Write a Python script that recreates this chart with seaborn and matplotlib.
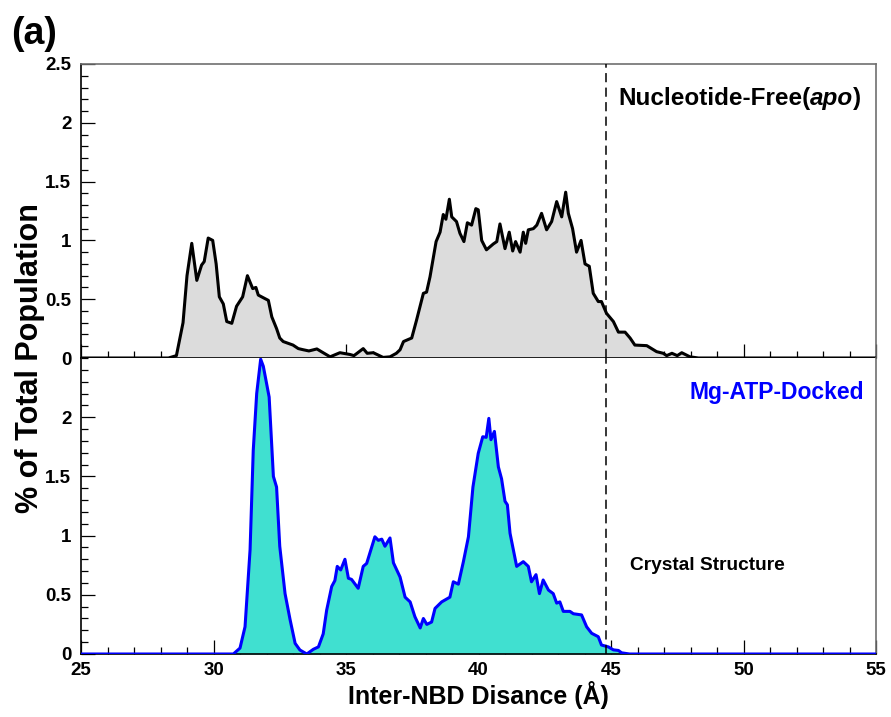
import matplotlib
matplotlib.use("Agg")
import matplotlib.pyplot as plt
import seaborn as sns
import numpy as np
import pandas as pd
from matplotlib.ticker import MultipleLocator, FixedLocator, FixedFormatter

# ---------------- data ----------------
apo_x = [25, 28.3, 28.6, 28.85, 29.0, 29.18, 29.37, 29.55, 29.65, 29.8, 29.97, 30.1, 30.22, 30.37,
         30.5, 30.69, 30.87, 31.1, 31.28, 31.48, 31.6, 31.69, 31.9, 32.07, 32.2, 32.38, 32.5, 32.63,
         33.0, 33.2, 33.39, 33.6, 33.9, 34.1, 34.4, 34.77, 35.15, 35.3, 35.65, 35.8, 36.03, 36.4,
         36.66, 36.9, 37.04, 37.17, 37.48, 37.66, 37.92, 38.04, 38.17, 38.4, 38.55, 38.67, 38.77,
         38.9, 38.99, 39.17, 39.3, 39.45, 39.58, 39.74, 39.9, 39.99, 40.12, 40.3, 40.56, 40.69,
         40.81, 41.0, 41.16, 41.29, 41.4, 41.57, 41.69, 41.78, 41.88, 42.07, 42.2, 42.38, 42.57,
         42.76, 42.95, 43.14, 43.29, 43.39, 43.55, 43.7, 43.87, 44.02, 44.18, 44.33, 44.52, 44.64,
         44.83, 45.09, 45.28, 45.53, 45.72, 45.9, 46.35, 46.72, 46.97, 47.1, 47.3, 47.5, 47.67,
         47.98, 48.3, 55]
apo_y = [0, 0, 0.02, 0.3, 0.7, 0.975, 0.66, 0.79, 0.82, 1.02, 1.0, 0.8, 0.52, 0.46,
         0.31, 0.295, 0.44, 0.52, 0.70, 0.59, 0.6, 0.535, 0.51, 0.49, 0.35, 0.25, 0.17, 0.14,
         0.11, 0.08, 0.07, 0.06, 0.077, 0.05, 0.01, 0.045, 0.03, 0.02, 0.08, 0.04, 0.045, 0.005,
         0.01, 0.04, 0.07, 0.14, 0.17, 0.32, 0.55, 0.56, 0.69, 0.99, 1.07, 1.22, 1.18,
         1.35, 1.20, 1.16, 1.06, 0.99, 1.15, 1.13, 1.27, 1.26, 1.0, 0.92, 0.97, 0.99,
         1.14, 0.93, 1.07, 0.91, 0.99, 0.90, 1.07, 0.975, 1.09, 1.10, 1.13, 1.23, 1.09,
         1.16, 1.33, 1.20, 1.41, 1.23, 1.10, 0.90, 1.0, 0.80, 0.78, 0.55, 0.48, 0.48,
         0.38, 0.31, 0.22, 0.22, 0.17, 0.11, 0.105, 0.054, 0.04, 0.02, 0.04, 0.02, 0.045,
         0.01, 0, 0]

atp_x = [25, 30.75, 31.0, 31.19, 31.38, 31.5, 31.63, 31.78, 31.88, 32.1, 32.26, 32.38, 32.5, 32.7,
         32.89, 33.08, 33.26, 33.52, 33.77, 33.96, 34.14, 34.27, 34.46, 34.58, 34.67, 34.8, 34.96,
         35.09, 35.21, 35.46, 35.65, 35.78, 36.09, 36.22, 36.35, 36.47, 36.66, 36.79, 37.04, 37.23,
         37.42, 37.6, 37.8, 37.92, 38.05, 38.23, 38.36, 38.61, 38.92, 39.05, 39.24, 39.43, 39.62,
         39.79, 39.99, 40.16, 40.29, 40.39, 40.47, 40.6, 40.75, 40.87, 41.0, 41.09, 41.19, 41.44,
         41.69, 41.88, 42.0, 42.17, 42.3, 42.44, 42.64, 42.82, 42.95, 43.07, 43.2, 43.45, 43.58,
         43.89, 44.08, 44.27, 44.52, 44.64, 44.9, 45.09, 45.28, 45.4, 45.7, 55]
atp_y = [0, 0, 0.05, 0.23, 0.88, 1.72, 2.2, 2.49, 2.43, 2.17, 1.5, 1.41, 0.91, 0.51,
         0.29, 0.09, 0.034, 0, 0.04, 0.06, 0.17, 0.37, 0.57, 0.62, 0.74, 0.71, 0.80,
         0.64, 0.63, 0.555, 0.74, 0.765, 0.99, 0.96, 0.97, 0.91, 0.98, 0.77, 0.65, 0.48,
         0.44, 0.315, 0.22, 0.30, 0.25, 0.27, 0.385, 0.44, 0.48, 0.61, 0.59, 0.78, 0.99,
         1.41, 1.695, 1.835, 1.83, 1.99, 1.81, 1.88, 1.58, 1.48, 1.29, 1.26, 1.02, 0.74,
         0.78, 0.74, 0.61, 0.67, 0.51, 0.625, 0.54, 0.51, 0.43, 0.44, 0.36, 0.36, 0.34,
         0.33, 0.23, 0.175, 0.146, 0.076, 0.06, 0.035, 0.03, 0.01, 0, 0]

crystal_x = 44.8
x_ticks = [25, 30, 35, 40, 45, 50, 55]
top_yticks = [0, 0.5, 1, 1.5, 2, 2.5]
bot_yticks = [0, 0.5, 1, 1.5, 2]
label_top = "Nucleotide-Free("
label_top_it = "apo"
label_bot = "Mg-ATP-Docked"
label_crystal = "Crystal Structure"

# ---------------- style ----------------
sns.set_style("white")
plt.rcParams['font.family'] = ['Liberation Sans', 'DejaVu Sans']
plt.rcParams['font.weight'] = 'bold'
plt.rcParams['text.color'] = 'black'
plt.rcParams['axes.labelcolor'] = 'black'
plt.rcParams['xtick.color'] = 'black'
plt.rcParams['ytick.color'] = 'black'
plt.rcParams['xtick.labelcolor'] = 'black'
plt.rcParams['ytick.labelcolor'] = 'black'

fig = plt.figure(figsize=(8.91, 7.17), dpi=100)
L, R = 81 / 891, 876 / 891
ax_top = fig.add_axes([L, 1 - 358 / 717, R - L, (358 - 64) / 717])
ax_bot = fig.add_axes([L, 1 - 654 / 717, R - L, (654 - 358) / 717], sharex=ax_top)

df_apo = pd.DataFrame({"x": apo_x, "y": apo_y})
df_atp = pd.DataFrame({"x": atp_x, "y": atp_y})

ax_top.fill_between(df_apo["x"], df_apo["y"], 0, color="#dcdcdc", linewidth=0, zorder=1)
sns.lineplot(data=df_apo, x="x", y="y", ax=ax_top, color="black", linewidth=2.2, sort=False,
             estimator=None, zorder=3)
ax_bot.fill_between(df_atp["x"], df_atp["y"], 0, color="#40e0d0", linewidth=0, zorder=1)
sns.lineplot(data=df_atp, x="x", y="y", ax=ax_bot, color="#0000ff", linewidth=2.2, sort=False,
             estimator=None, zorder=3)

for ax in (ax_top, ax_bot):
    ax.set_xlim(25, 55)
    ax.set_ylim(0, 2.5)
    ax.axvline(crystal_x, color="black", linestyle=(0, (6, 3.5)), linewidth=1.1, zorder=4)
    ax.set_xlabel("")
    ax.set_ylabel("")
    ax.xaxis.set_minor_locator(MultipleLocator(1))
    ax.yaxis.set_minor_locator(MultipleLocator(0.1))
    ax.tick_params(axis="both", which="major", direction="in", length=10, width=0.9,
                   color="black", labelcolor="black", labelsize=13.5)
    ax.tick_params(axis="both", which="minor", direction="in", length=5, width=0.9, color="black")
    ax.tick_params(axis="y", which="both", left=True, right=False, pad=7)
    ax.tick_params(axis="x", which="both", bottom=True, top=False, pad=6)
    for side in ("top", "right"):
        ax.spines[side].set_color("#707070")
        ax.spines[side].set_linewidth(1.2)
    for side in ("left", "bottom"):
        ax.spines[side].set_color("black")
        ax.spines[side].set_linewidth(1.2)
    ax.set_facecolor("white")

ax_top.yaxis.set_major_locator(FixedLocator(top_yticks))
ax_top.yaxis.set_major_formatter(FixedFormatter([f"{v:g}" for v in top_yticks]))
ax_bot.yaxis.set_major_locator(FixedLocator(bot_yticks))
ax_bot.yaxis.set_major_formatter(FixedFormatter([f"{v:g}" for v in bot_yticks]))
ax_bot.xaxis.set_major_locator(FixedLocator(x_ticks))
ax_bot.xaxis.set_major_formatter(FixedFormatter([str(v) for v in x_ticks]))
ax_top.tick_params(axis="x", labelbottom=False)
ax_bot.spines["top"].set_visible(False)
for lab in ax_top.get_yticklabels() + ax_bot.get_yticklabels() + ax_bot.get_xticklabels():
    lab.set_fontweight("bold")

# annotations
FS = 17.5
t1 = ax_top.text(45.26, 2.21, label_top, fontsize=FS, fontweight="bold", va="center", ha="left",
                 color="black")
fig.canvas.draw()
bb = t1.get_window_extent()
inv = ax_top.transData.inverted()
x_end = inv.transform((bb.x1, bb.y0))[0]
t2 = ax_top.text(x_end, 2.21, label_top_it, fontsize=FS, fontweight="bold", fontstyle="italic",
                 va="center", ha="left", color="black")
fig.canvas.draw()
bb2 = t2.get_window_extent()
x_end2 = inv.transform((bb2.x1, bb2.y0))[0]
ax_top.text(x_end2, 2.21, ")", fontsize=FS, fontweight="bold", va="center", ha="left",
            color="black")

ax_bot.text(54.55, 2.21, label_bot, fontsize=16.5, fontweight="bold", color="#0000ff",
            va="center", ha="right")
ax_bot.text(45.7, 0.75, label_crystal, fontsize=13.8, fontweight="bold", va="center", ha="left",
            color="black")

fig.text(0.034, 0.5, "% of Total Population", rotation=90, fontsize=22, fontweight="bold",
         va="center", ha="center", color="black")
fig.text((L + R) / 2, 0.031, "Inter-NBD Disance (Å)", fontsize=18, fontweight="bold",
         va="center", ha="center", color="black")
fig.text(0.012, 0.953, "(a)", fontsize=27, fontweight="bold", va="center", ha="left",
         color="black")

fig.savefig("out.png", dpi=100, facecolor="white")
